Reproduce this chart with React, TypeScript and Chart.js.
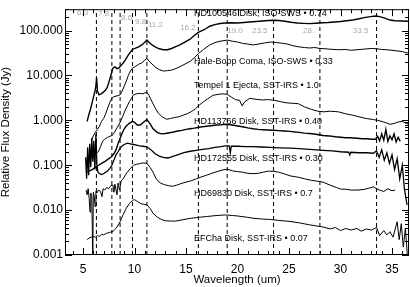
import { useEffect, useRef } from 'react';
import { Chart, registerables } from 'chart.js';

Chart.register(...registerables);

const FONT = '"Liberation Sans", Arial, Helvetica, sans-serif';

const X_MIN = 3.25;
const X_MAX = 36.65;
const Y_MIN = 0.001;
const Y_MAX = 300;

const xTicks = [5, 10, 15, 20, 25, 30, 35];
const yTicks = [0.001, 0.01, 0.1, 1, 10, 100];
const yTickLabels = ['0.001', '0.010', '0.100', '1.000', '10.000', '100.000'];

const featureWaves = [6.3, 7.8, 8.6, 9.8, 11.2, 16.2, 19.0, 23.5, 28.0, 33.5];
const featureLabels = ['6.3', '7.8', '8.6', '9.8', '11.2', '16.2', '19.0', '23.5', '28.', '33.5'];

const curveLabels = [
  'HD100546 Disk, ISO-SWS \u2022 0.74',
  'Hale-Bopp Coma, ISO-SWS \u2022 0.33',
  'Tempel 1 Ejecta, SST-IRS \u2022 1.0',
  'HD113766 Disk, SST-IRS \u2022 0.40',
  'HD172555 Disk, SST-IRS \u2022 0.30',
  'HD69830 Disk, SST-IRS \u2022 0.7',
  'EFCha Disk, SST-IRS \u2022 0.07',
];

const hd100546 = [
  [5.4, 0.95], [5.55, 1.3], [5.7, 1.7], [5.85, 2.3], [6.0, 3.2], [6.15, 4.4], [6.25, 5.8], [6.32, 9.0],
  [6.4, 4.6], [6.55, 3.7], [6.75, 3.9], [6.95, 4.2], [7.15, 4.6], [7.35, 5.4], [7.55, 7.6], [7.7, 10],
  [7.9, 14.6], [8.1, 15.5], [8.3, 14.2], [8.5, 14.8], [8.7, 17], [8.9, 19], [9.1, 22], [9.3, 26.4],
  [9.5, 31], [9.8, 38], [10.1, 40.5], [10.4, 43.5], [10.7, 48], [11.0, 55], [11.2, 61.5], [11.4, 55],
  [11.7, 48], [12.0, 43.5], [12.4, 39.4], [12.8, 37.4], [13.2, 37.4], [13.6, 40], [14.0, 44], [14.4, 48],
  [14.8, 54], [15.4, 64.5], [15.8, 78], [16.2, 91.5], [16.8, 106], [17.3, 125], [17.8, 136], [18.3, 144],
  [18.8, 148], [19.4, 150], [20.0, 148], [20.6, 152], [21.2, 156], [21.8, 160], [22.4, 164], [23.0, 168],
  [23.5, 170], [24.0, 168], [24.6, 162], [25.2, 154], [25.8, 148], [26.4, 145], [27.0, 143], [27.6, 146],
  [28.2, 150], [28.8, 152], [29.4, 156], [30.0, 160], [30.6, 166], [31.2, 172], [31.7, 182], [32.3, 195],
  [32.9, 205], [33.4, 212], [33.8, 205], [34.3, 190], [34.8, 172], [35.3, 166], [35.9, 164], [36.7, 162],
];

const haleBopp = [
  [5.8, 0.35], [6.0, 0.45], [6.2, 0.55], [6.4, 0.62], [6.6, 0.75], [6.8, 0.95], [7.0, 1.1], [7.2, 1.4],
  [7.4, 1.9], [7.6, 2.5], [7.8, 3.1], [8.0, 3.4], [8.3, 3.5], [8.6, 3.7], [8.8, 4.5], [9.0, 5.8],
  [9.2, 7.5], [9.4, 10], [9.6, 12.6], [9.8, 14.5], [10.1, 16], [10.4, 17.8], [10.7, 19], [11.0, 22],
  [11.2, 24], [11.4, 21], [11.7, 18], [12.0, 15.5], [12.4, 13.5], [12.8, 12.6], [13.2, 12.8], [13.6, 13.2],
  [14.1, 14.5], [14.6, 16.5], [15.0, 18.5], [15.4, 20.6], [15.8, 25], [16.2, 30.7], [16.7, 38], [17.3, 48],
  [17.8, 54], [18.3, 58], [19.0, 61.5], [19.5, 58], [20.0, 55.7], [20.5, 52], [21.0, 50], [21.5, 48],
  [22.0, 50], [22.6, 53], [23.2, 55.7], [23.8, 54], [24.4, 52], [24.8, 50.4], [25.4, 46], [25.9, 43.6],
  [26.5, 42], [27.0, 41], [27.5, 42], [28.0, 40], [28.5, 39.4], [29.0, 38.5], [29.8, 37.5], [30.5, 38],
  [31.0, 36.5], [31.6, 37.5], [32.2, 38.5], [33.0, 40], [33.5, 39.4], [34.0, 38], [34.5, 37.5], [35.2, 36],
  [36.0, 34], [36.7, 31],
];

const tempel1 = [
  [5.3, 0.12], [5.5, 0.15], [5.7, 0.13], [5.9, 0.17], [6.1, 0.16], [6.3, 0.19], [6.5, 0.2], [6.7, 0.26],
  [6.9, 0.34], [7.1, 0.38], [7.4, 0.42], [7.6, 0.44], [7.8, 0.46], [8.0, 0.52], [8.3, 0.68], [8.6, 0.9],
  [8.9, 1.3], [9.1, 1.7], [9.3, 2.1], [9.5, 2.6], [9.7, 3.1], [9.9, 3.7], [10.2, 3.9], [10.5, 4.0],
  [10.8, 3.9], [11.0, 4.1], [11.2, 4.2], [11.4, 3.6], [11.7, 2.6], [12.0, 1.9], [12.3, 1.45], [12.7, 1.2],
  [13.1, 1.06], [13.5, 1.1], [13.9, 1.16], [14.3, 1.2], [14.7, 1.3], [15.1, 1.4], [15.5, 1.56], [15.9, 1.8],
  [16.3, 2.2], [16.7, 2.6], [17.1, 3.0], [17.6, 3.6], [18.1, 3.8], [18.6, 3.9], [19.0, 3.8], [19.4, 3.3],
  [19.8, 2.9], [20.2, 2.8], [20.45, 2.1], [20.7, 2.6], [21.2, 3.1], [21.8, 2.95], [22.4, 2.85], [23.0, 2.9],
  [23.6, 2.8], [24.2, 2.6], [24.8, 2.45], [25.4, 2.4], [25.9, 2.35], [26.5, 2.0], [27.2, 1.75], [27.8, 1.6],
  [28.4, 1.55], [29.0, 1.6], [29.8, 1.55], [30.5, 1.4], [31.2, 1.3], [31.8, 1.2], [32.5, 1.1], [33.1, 1.05],
  [33.6, 1.0], [34.2, 0.92], [34.8, 0.82], [35.2, 0.85], [35.6, 0.92], [36.0, 0.95], [36.4, 0.85], [36.75, 0.82],
];

const hd113766 = [
  [5.3, 0.07], [5.6, 0.075], [5.9, 0.08], [6.2, 0.09], [6.5, 0.1], [6.8, 0.11], [7.1, 0.12], [7.4, 0.135],
  [7.7, 0.15], [8.0, 0.18], [8.2, 0.22], [8.4, 0.3], [8.6, 0.4], [8.8, 0.52], [9.0, 0.65], [9.2, 0.75],
  [9.5, 0.86], [9.8, 0.95], [10.0, 0.9], [10.3, 0.78], [10.6, 0.8], [10.9, 0.92], [11.2, 1.05], [11.5, 0.85],
  [11.8, 0.65], [12.2, 0.54], [12.6, 0.5], [13.0, 0.51], [13.4, 0.53], [13.8, 0.55], [14.2, 0.58], [14.6, 0.6],
  [15.0, 0.63], [15.4, 0.65], [15.8, 0.67], [16.4, 0.71], [16.8, 0.73], [17.2, 0.75], [17.6, 0.77], [18.0, 0.79],
  [18.4, 0.8], [18.8, 0.82], [19.2, 0.81], [19.6, 0.78], [20.2, 0.74], [20.6, 0.71], [21.0, 0.68], [21.5, 0.65],
  [22.0, 0.63], [22.5, 0.62], [23.0, 0.61], [23.5, 0.6], [24.0, 0.59], [24.5, 0.58], [25.1, 0.57], [25.6, 0.55],
  [26.0, 0.54], [26.5, 0.52], [27.0, 0.51], [27.6, 0.49], [28.3, 0.46], [28.9, 0.45], [29.5, 0.43], [30.0, 0.42],
  [30.5, 0.41], [31.0, 0.41], [31.6, 0.4], [32.1, 0.39], [32.6, 0.39], [33.0, 0.38], [33.4, 0.38], [33.6, 0.44],
  [33.8, 0.35], [34.0, 0.5], [34.2, 0.36], [34.4, 0.62], [34.6, 0.34], [34.8, 0.45], [35.0, 0.37], [35.2, 0.5],
  [35.4, 0.33], [35.6, 0.42], [35.8, 0.34],
];

const hd172555 = [
  [5.25, 0.15], [5.35, 0.05], [5.45, 0.25], [5.55, 0.06], [5.65, 0.3], [5.75, 0.09], [5.85, 0.4], [5.95, 0.12],
  [6.05, 0.35], [6.15, 0.08], [6.25, 0.5], [6.35, 0.1], [6.45, 0.07], [6.6, 0.065], [6.8, 0.062], [7.0, 0.065],
  [7.2, 0.07], [7.4, 0.075], [7.6, 0.085], [7.8, 0.1], [8.0, 0.13], [8.2, 0.17], [8.4, 0.2], [8.6, 0.24],
  [8.8, 0.27], [9.0, 0.29], [9.3, 0.31], [9.6, 0.3], [9.9, 0.29], [10.2, 0.28], [10.5, 0.27], [10.8, 0.265],
  [11.1, 0.26], [11.4, 0.24], [11.7, 0.21], [12.0, 0.18], [12.4, 0.16], [12.8, 0.15], [13.2, 0.145], [13.45, 0.15],
  [13.8, 0.16], [14.3, 0.175], [14.8, 0.19], [15.4, 0.205], [16.0, 0.215], [16.6, 0.225], [17.2, 0.235], [17.8, 0.25],
  [18.4, 0.26], [18.8, 0.27], [19.2, 0.27], [19.3, 0.19], [19.4, 0.265], [20.0, 0.265], [20.8, 0.26], [21.5, 0.26],
  [22.3, 0.255], [23.2, 0.25], [24.1, 0.245], [25.1, 0.24], [26.0, 0.235], [27.0, 0.225], [28.3, 0.215], [29.2, 0.21],
  [30.0, 0.2], [30.8, 0.195], [30.9, 0.17], [31.0, 0.195], [31.8, 0.19], [32.5, 0.19], [33.2, 0.185], [33.5, 0.21],
  [33.75, 0.15], [34.0, 0.22], [34.25, 0.13], [34.5, 0.19], [34.75, 0.11], [35.0, 0.17], [35.25, 0.08], [35.5, 0.14],
  [35.75, 0.05], [36.0, 0.1], [36.2, 0.03], [36.46, 0.013],
];

const hd69830 = [
  [5.3, 0.028], [5.4, 0.022], [5.5, 0.03], [5.6, 0.018], [5.68, 0.009], [5.75, 0.024], [5.85, 0.02], [5.95, 0.0008],
  [6.0, 0.025], [6.1, 0.02], [6.17, 0.012], [6.25, 0.026], [6.35, 0.024], [6.5, 0.028], [6.7, 0.026], [6.84, 0.02],
  [6.95, 0.03], [7.1, 0.028], [7.3, 0.032], [7.5, 0.03], [7.7, 0.035], [7.9, 0.036], [8.0, 0.025], [8.1, 0.038],
  [8.3, 0.022], [8.4, 0.04], [8.55, 0.028], [8.7, 0.045], [8.9, 0.05], [9.1, 0.06], [9.3, 0.07], [9.6, 0.085],
  [9.9, 0.1], [10.2, 0.105], [10.6, 0.11], [10.9, 0.113], [11.2, 0.11], [11.5, 0.09], [11.8, 0.07], [12.1, 0.05],
  [12.5, 0.04], [12.9, 0.037], [13.3, 0.035], [13.7, 0.034], [14.1, 0.036], [14.5, 0.039], [15.0, 0.042], [15.5, 0.045],
  [16.0, 0.05], [16.5, 0.055], [17.0, 0.06], [17.5, 0.066], [18.0, 0.072], [18.5, 0.078], [19.0, 0.082], [19.5, 0.075],
  [20.0, 0.072], [20.5, 0.07], [21.0, 0.066], [21.5, 0.065], [22.0, 0.066], [22.5, 0.07], [23.0, 0.074], [23.5, 0.073],
  [24.0, 0.07], [24.5, 0.065], [25.1, 0.058], [25.9, 0.054], [26.5, 0.05], [27.2, 0.046], [27.8, 0.044], [28.3, 0.042],
  [29.0, 0.036], [29.6, 0.032], [30.0, 0.0295], [30.6, 0.029], [31.0, 0.028], [31.7, 0.028], [32.3, 0.029], [32.8, 0.031],
  [33.2, 0.033], [33.5, 0.03], [33.8, 0.028], [34.2, 0.026], [34.6, 0.03], [35.0, 0.027], [35.3, 0.028],
];

const efCha = [
  [5.4, 0.0022], [5.6, 0.0024], [5.8, 0.0025], [6.0, 0.0026], [6.2, 0.0025], [6.4, 0.0027], [6.6, 0.0026], [6.8, 0.0029],
  [7.0, 0.0028], [7.2, 0.003], [7.4, 0.0031], [7.6, 0.0032], [7.8, 0.0033], [8.0, 0.0035], [8.3, 0.0042], [8.6, 0.0055],
  [8.9, 0.008], [9.2, 0.011], [9.5, 0.014], [9.8, 0.0165], [10.0, 0.0171], [10.3, 0.0155], [10.6, 0.014], [10.9, 0.0135],
  [11.2, 0.013], [11.5, 0.011], [11.8, 0.0085], [12.2, 0.007], [12.6, 0.0062], [13.0, 0.0058], [13.5, 0.0057], [14.0, 0.0057],
  [14.5, 0.006], [15.0, 0.0063], [15.5, 0.0066], [16.0, 0.0068], [16.5, 0.007], [17.0, 0.0072], [17.5, 0.0074], [18.0, 0.0076],
  [18.8, 0.0078], [19.5, 0.0076], [20.0, 0.0074], [21.0, 0.0069], [21.5, 0.0066], [22.5, 0.0063], [23.2, 0.0062], [24.0, 0.0059],
  [25.1, 0.0056], [26.0, 0.0052], [27.0, 0.0047], [28.3, 0.0042], [29.0, 0.0038], [29.5, 0.0041], [30.0, 0.0035], [30.5, 0.0039],
  [31.0, 0.0036], [31.6, 0.0039], [32.0, 0.0034], [32.5, 0.0038], [33.0, 0.0036], [33.5, 0.0041], [33.8, 0.0027], [34.2, 0.0035],
  [34.5, 0.0028], [34.8, 0.0033], [35.1, 0.0025], [35.5, 0.0055], [35.7, 0.0022], [35.9, 0.005], [36.1, 0.0015], [36.3, 0.004],
  [36.5, 0.0009],
];

const seriesList = [hd100546, haleBopp, tempel1, hd113766, hd172555, hd69830, efCha];
const seriesWidths = [1.4, 1, 1, 1.4, 1.3, 1, 1];

// layout: where each text is anchored (in data coordinates)
const CURVE_LABEL_X = 15.78;
const curveLabelY = [235, 20.6, 5.97, 0.95, 0.144, 0.023, 0.00235];
const featureLabelX = [4.42, 6.46, 8.69, 10.05, 11.31, 14.42, 19.0, 21.4, 26.36, 31.2];
const featureLabelY = [247, 235, 192, 158, 136, 117, 100, 100, 100, 100];

const decorPlugin = {
  id: 'decor',
  afterDatasetsDraw(chart: any) {
    const { ctx, chartArea: a, scales } = chart;
    const xs = scales.x;
    const ys = scales.y;
    ctx.save();
    ctx.strokeStyle = '#000';
    ctx.lineWidth = 1;
    ctx.setLineDash([]);
    ctx.strokeRect(a.left + 0.5, a.top + 0.5, a.right - a.left - 1, a.bottom - a.top - 1);
    ctx.beginPath();
    for (let v = 4; v <= 36; v++) {
      const px = Math.round(xs.getPixelForValue(v)) + 0.5;
      const len = v % 5 === 0 ? 7 : 4;
      ctx.moveTo(px, a.bottom);
      ctx.lineTo(px, a.bottom - len);
      ctx.moveTo(px, a.top);
      ctx.lineTo(px, a.top + len);
    }
    for (let d = -3; d <= 2; d++) {
      for (let m = 1; m <= 9; m++) {
        const v = m * Math.pow(10, d);
        if (v < Y_MIN || v > Y_MAX) continue;
        const py = Math.round(ys.getPixelForValue(v)) + 0.5;
        const len = m === 1 ? 7 : 4;
        ctx.moveTo(a.left, py);
        ctx.lineTo(a.left + len, py);
        ctx.moveTo(a.right, py);
        ctx.lineTo(a.right - len, py);
      }
    }
    ctx.stroke();

    ctx.fillStyle = '#000';
    ctx.font = `9px ${FONT}`;
    ctx.textBaseline = 'middle';
    ctx.textAlign = 'left';
    curveLabels.forEach((t, i) => {
      ctx.fillText(t, xs.getPixelForValue(CURVE_LABEL_X), ys.getPixelForValue(curveLabelY[i]));
    });
    ctx.fillStyle = '#a8a8a8';
    ctx.font = `8px ${FONT}`;
    featureLabels.forEach((t, i) => {
      ctx.fillText(t, xs.getPixelForValue(featureLabelX[i]), ys.getPixelForValue(featureLabelY[i]));
    });
    ctx.restore();
  },
};

export default function App() {
  const ref = useRef<HTMLCanvasElement | null>(null);
  useEffect(() => {
    if (!ref.current) return;
    const curveSets = seriesList.map((s, i) => ({
      data: s.map(([x, y]) => ({ x, y })),
      borderColor: '#000',
      backgroundColor: '#000',
      borderWidth: seriesWidths[i],
      pointRadius: 0,
      tension: 0,
      fill: false,
    }));
    const dashSets = featureWaves.map((w) => ({
      data: [{ x: w, y: Y_MIN }, { x: w, y: Y_MAX }],
      borderColor: '#000',
      borderWidth: 1,
      borderDash: [4, 3],
      pointRadius: 0,
      fill: false,
    }));
    const chart = new Chart(ref.current, {
      type: 'line',
      data: { datasets: [...curveSets, ...dashSets] as any },
      options: {
        animation: false,
        responsive: false,
        devicePixelRatio: 1,
        layout: { padding: { top: 1, right: 1, left: 0, bottom: 0 } },
        plugins: { legend: { display: false }, tooltip: { enabled: false }, title: { display: false } },
        scales: {
          x: {
            type: 'linear',
            min: X_MIN,
            max: X_MAX,
            afterBuildTicks: (s: any) => { s.ticks = xTicks.map((v) => ({ value: v })); },
            afterFit: (s: any) => { s.height = 32; },
            grid: { display: false, drawTicks: false },
            border: { display: false },
            ticks: {
              autoSkip: false, maxRotation: 0, padding: 7, color: '#000',
              font: { family: FONT, size: 12 },
              callback: (v: any) => String(v),
            },
            title: {
              display: true, text: 'Wavelength (um)', color: '#000', padding: 0,
              font: { family: FONT, size: 11.5, lineHeight: 1.2 },
            },
          },
          y: {
            type: 'logarithmic',
            min: Y_MIN,
            max: Y_MAX,
            afterBuildTicks: (s: any) => { s.ticks = yTicks.map((v) => ({ value: v })); },
            afterFit: (s: any) => { s.width = 65; },
            grid: { display: false, drawTicks: false },
            border: { display: false },
            ticks: {
              autoSkip: false, padding: 2, color: '#000',
              font: { family: FONT, size: 12 },
              callback: (v: any) => {
                const i = yTicks.findIndex((t) => Math.abs(t - v) / t < 1e-6);
                return i >= 0 ? yTickLabels[i] : '';
              },
            },
            title: {
              display: true, text: 'Relative Flux Density (Jy)', color: '#000', padding: 0,
              font: { family: FONT, size: 11.5, lineHeight: 1.0 },
            },
          },
        },
      },
      plugins: [decorPlugin],
    });
    return () => chart.destroy();
  }, []);
  return (
    <div style={{ position: 'fixed', left: 0, top: 0, width: 410, height: 287, background: '#fff' }}>
      <canvas ref={ref} width={410} height={287} />
    </div>
  );
}
